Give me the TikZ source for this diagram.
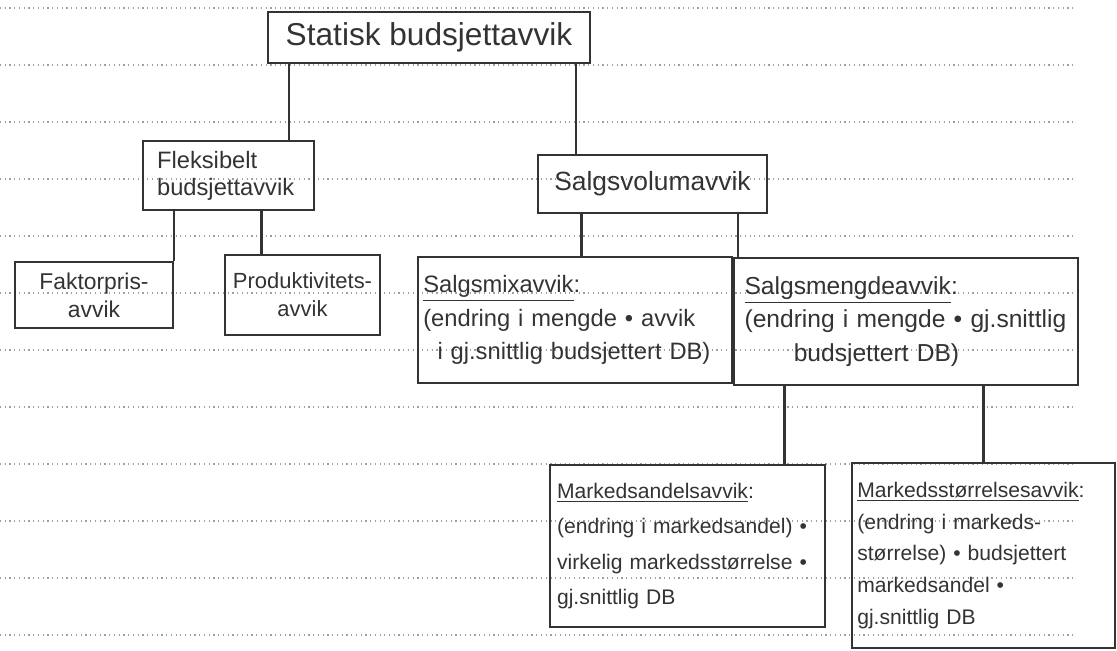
\documentclass[tikz,border=0pt]{standalone}
\usepackage{fontspec}
\setmainfont{Liberation Sans}
\usetikzlibrary{calc}
\colorlet{ink}{black!80}

\begin{document}
\begin{tikzpicture}[x=0.02cm,y=-0.02cm,
    avvik/.style={draw=ink,line width=1.4pt,text=ink,inner sep=5pt,align=left},
    kant/.style={draw=ink,line width=1.4pt},
    papirlinje/.style={draw=gray!75,dotted,line width=0.7pt}]
    \pgfmathsetmacro{\linjeavstand}{57}
    \pgfmathsetmacro{\linjestart}{8}
    \pgfmathsetmacro{\linjeslutt}{1075}
    \useasboundingbox (0,0) rectangle (1117,651);
    % linjert papir
    \foreach \k in {0,...,11}
        \draw[papirlinje] (0,\linjestart+\linjeavstand*\k) -- (\linjeslutt,\linjestart+\linjeavstand*\k);
    % nivaa 1
    \node[avvik,align=center,minimum width=6.44cm,minimum height=1.02cm,font=\fontsize{18}{22}\selectfont] (statisk) at (429,37.5) {Statisk budsjettavvik};
    % nivaa 2
    \node[avvik,minimum width=3.42cm,minimum height=1.38cm,text width=3.42cm-16pt,font=\fontsize{13.5}{15.5}\selectfont] (fleksibelt) at (228.5,175.5) {Fleksibelt\\ budsjettavvik};
    \node[avvik,align=center,minimum width=4.58cm,minimum height=1.16cm,font=\fontsize{15}{18}\selectfont] (volum) at (652.5,184) {Salgsvolumavvik};
    % nivaa 3
    \node[avvik,align=center,inner sep=3pt,minimum width=3.16cm,minimum height=1.32cm,font=\fontsize{13}{16}\selectfont] (faktorpris) at (94,295) {Faktorpris-\\avvik};
    \node[avvik,align=center,inner sep=3pt,minimum width=3.1cm,minimum height=1.6cm,font=\fontsize{12.5}{16}\selectfont] (produktivitet) at (302.5,295) {Produktivitets-\\avvik};
    \node[avvik,inner sep=3pt,minimum width=6.28cm,minimum height=2.52cm,text width=6.28cm-6pt,font=\fontsize{13.5}{19}\selectfont] (salgsmix) at (575,320)
    {\underline{Salgsmixavvik}:\\
     (endring i mengde • avvik\\
     \hspace*{0.6em}i gj.snittlig budsjettert DB)};
    \node[avvik,minimum width=6.88cm,minimum height=2.54cm,text width=6.88cm-12pt,font=\fontsize{14}{19}\selectfont] (salgsmengde) at (906,321.5)
    {\underline{Salgsmengdeavvik}:\\
     (endring i mengde • gj.snittlig\\
     \hspace*{2em}budsjettert DB)};
    % nivaa 4
    \node[avvik,inner sep=4pt,minimum width=5.5cm,minimum height=3.24cm,text width=5.5cm-8pt,font=\fontsize{12}{20}\selectfont] (markedsandel) at (687.5,546)
    {\underline{Markedsandelsavvik}:\\
     (endring i markedsandel) •\\
     virkelig markedsstørrelse •\\
     gj.snittlig DB};
    \node[avvik,inner sep=3pt,minimum width=5.26cm,minimum height=3.7cm,text width=5.26cm-6pt,font=\fontsize{12}{18}\selectfont] (markedsstorrelse) at (983.5,555.5)
    {\underline{Markedsstørrelsesavvik}:\\
     (endring i markeds-\\
     størrelse) • budsjettert\\
     markedsandel •\\
     gj.snittlig DB};
    % forbindelser
    \draw[kant] ($(fleksibelt.north west)!.85!(fleksibelt.north east)$) coordinate (a) -- (a |- statisk.south);
    \draw[kant] ($(volum.north west)!.17!(volum.north east)$) coordinate (b) -- (b |- statisk.south);
    \draw[kant] (faktorpris.north east) -- (faktorpris.north east |- fleksibelt.south);
    \draw[kant] ($(produktivitet.north west)!.24!(produktivitet.north east)$) coordinate (c) -- (c |- fleksibelt.south);
    \draw[kant] ($(salgsmix.north west)!.52!(salgsmix.north east)$) coordinate (d) -- (d |- volum.south);
    \draw[kant] ($(volum.south west)!.87!(volum.south east)$) coordinate (e) -- (e |- salgsmengde.north);
    \draw[kant] ($(markedsandel.north west)!.85!(markedsandel.north east)$) coordinate (f) -- (f |- salgsmengde.south);
    \draw[kant] (markedsstorrelse.north) -- (markedsstorrelse.north |- salgsmengde.south);
\end{tikzpicture}
\end{document}
